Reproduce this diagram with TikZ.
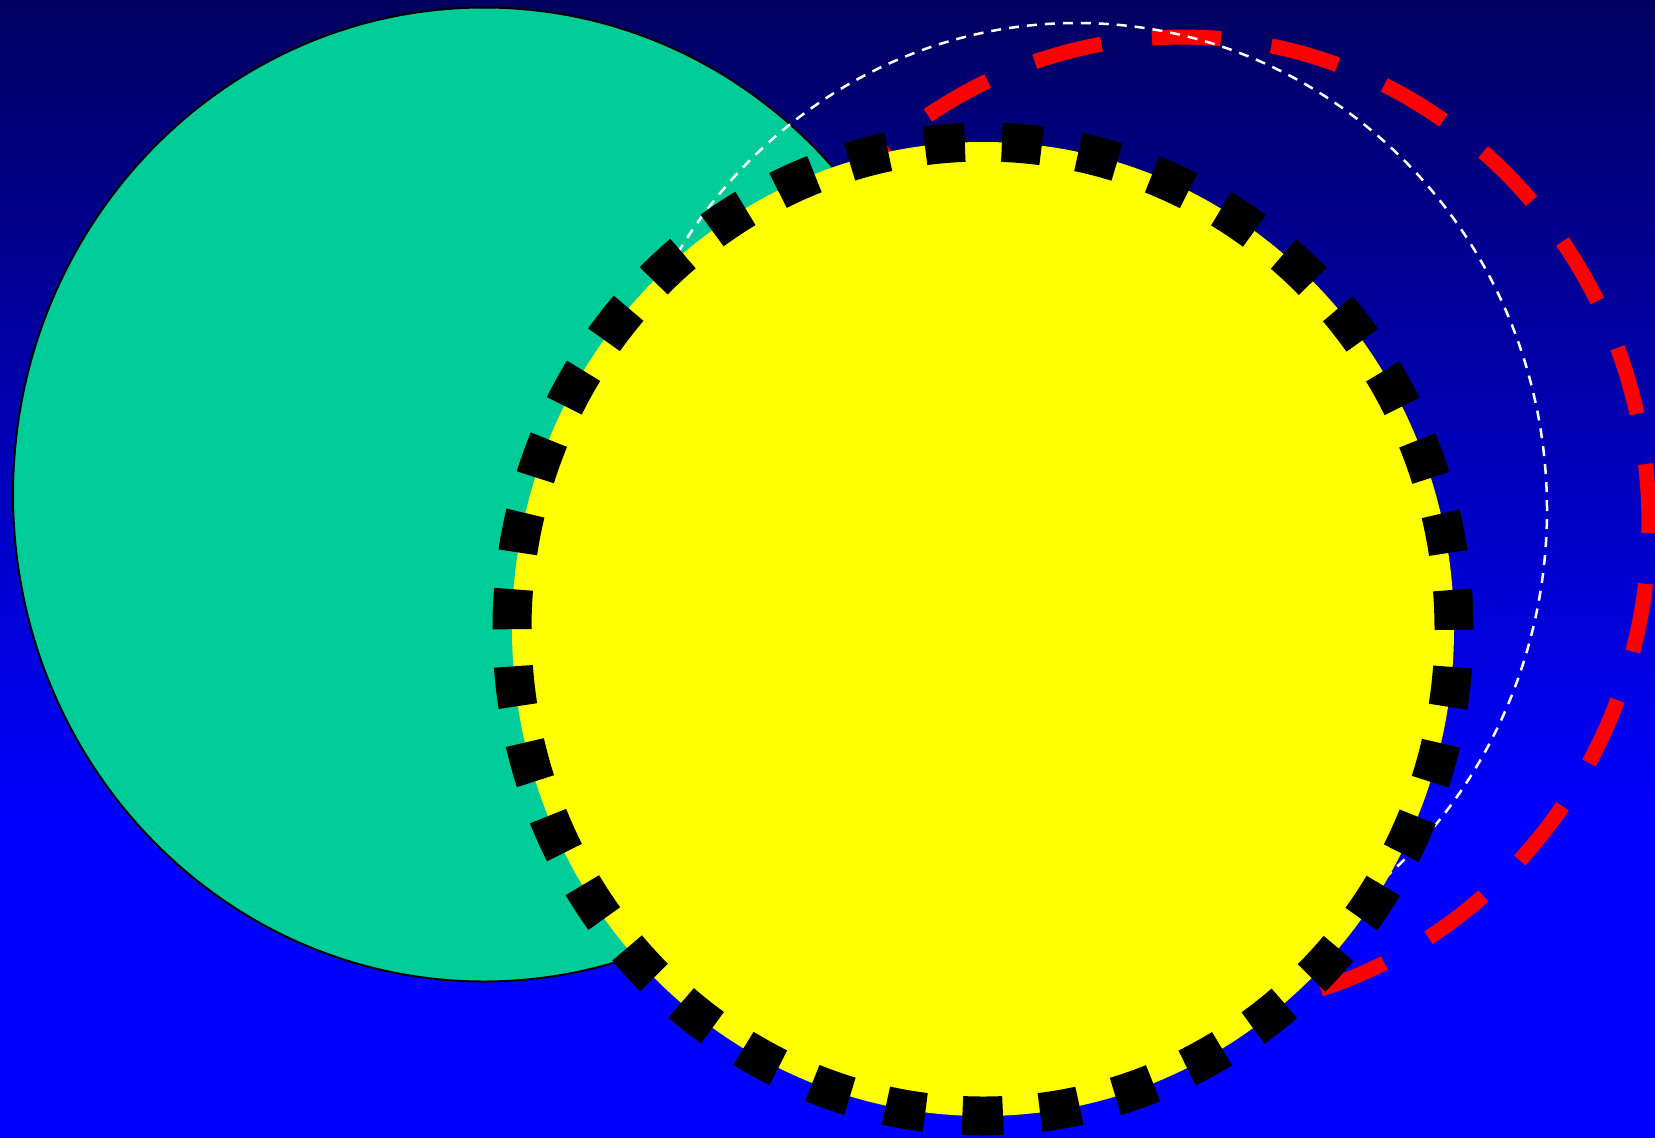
\documentclass[tikz,border=0pt]{standalone}
\begin{document}
\begin{tikzpicture}[x=1pt,y=1pt]
\definecolor{navytop}{RGB}{0,0,96}
\definecolor{bgblue}{RGB}{0,0,255}
\definecolor{tealdisk}{RGB}{0,204,153}
\definecolor{sunyellow}{RGB}{255,255,0}
\definecolor{ringred}{RGB}{255,0,0}
\tikzset{
  tealshape/.style={fill=tealdisk, draw=black, line width=2pt},
  redring/.style={draw=ringred, line width=15pt, dash pattern=on 69pt off 50.9pt, dash phase=31pt},
  whitering/.style={draw=white, line width=2.5pt, dash pattern=on 10pt off 8pt},
  yellowdisk/.style={fill=sunyellow},
  blackring/.style={draw=black, line width=39pt, dash pattern=on 40pt off 37.17pt, dash phase=20pt}
}
\useasboundingbox (0,0) rectangle (1655,-1138);
\clip (0,0) rectangle (1655,-1138);
% background
\fill[bgblue] (0,-1138) rectangle (1655,-815);
\shade[top color=navytop, bottom color=bgblue] (0,0) rectangle (1655,-820);
% teal disk
\draw[tealshape] (484,-494.5) ellipse [x radius=471, y radius=487];
% red dashed ring
\draw[redring] (1182,-524) ++(2.6:467 and 487) arc[start angle=2.6, end angle=362.6, x radius=467, y radius=487];
% white dashed ring
\draw[whitering] (1077,-510) ellipse [x radius=470, y radius=487];
% yellow disk with black dashed border
\fill[yellowdisk] (983,-629) ellipse [x radius=471, y radius=487];
\draw[blackring] (983,-629) ++(-90:471 and 487) arc[start angle=-90, end angle=270, x radius=471, y radius=487];
\end{tikzpicture}
\end{document}
